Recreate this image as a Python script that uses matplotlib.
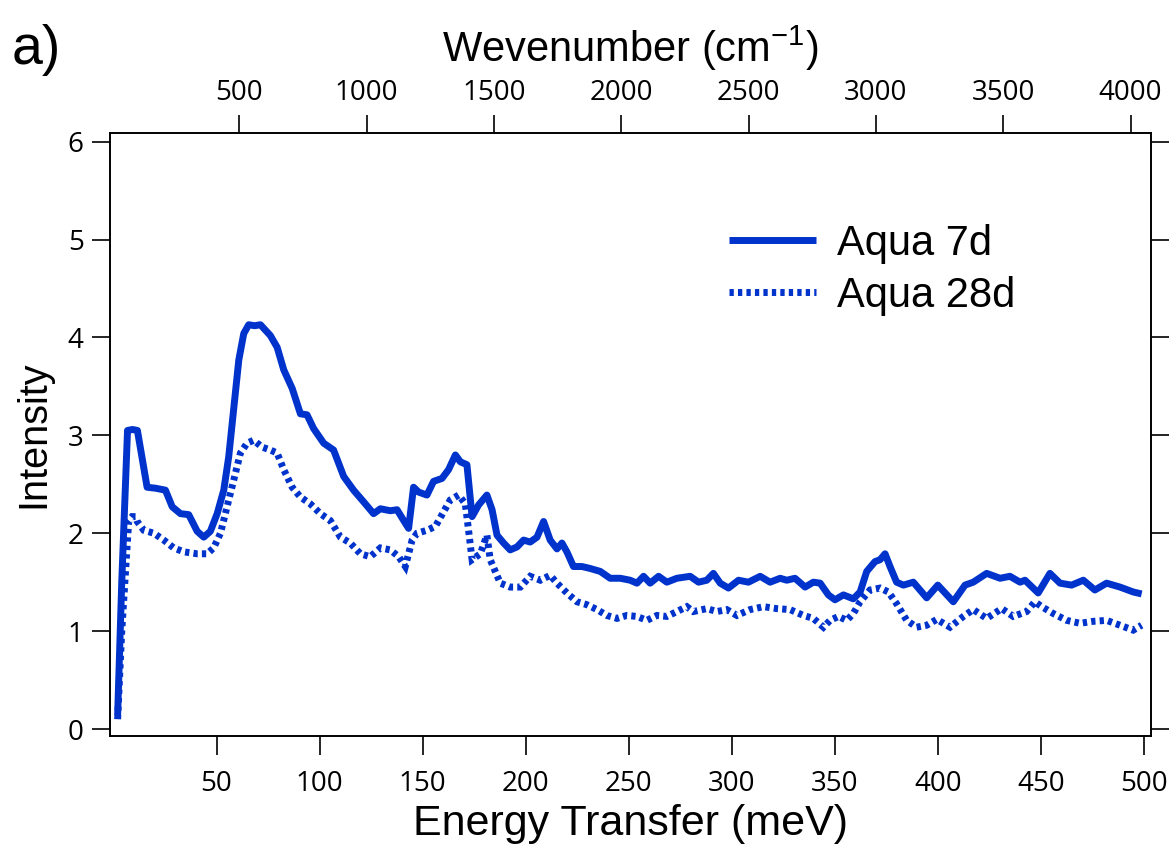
import matplotlib
matplotlib.use("Agg")
import matplotlib.pyplot as plt

# ---------------- data ----------------
energy_7d = [2, 4, 6.8, 9.2, 11.6, 16.3, 20.4, 25.2, 28.5, 32.5, 36.5, 40.6, 43.8, 47, 50.3,
             53.5, 55.9, 58.5, 60.8, 63.2, 65.6, 68.5, 71.3, 76.1, 79.4, 82.6, 86.7, 90.7,
             93.9, 97.1, 102, 106.8, 111.7, 116.5, 121.4, 126.2, 129.5, 134.3, 137.6, 140.8,
             143.2, 145.6, 148.1, 152.1, 155.3, 159.4, 162.6, 165.9, 168.3, 171.5, 174, 177.2,
             181.2, 183.7, 186.1, 189.3, 192.5, 195.8, 199, 202.2, 205.5, 208.7, 211.9, 215.2,
             217.6, 220, 223.2, 227.3, 231.3, 236.2, 241, 245.9, 250.7, 254, 257.2, 260.4,
             264.5, 268.5, 273.4, 279.8, 283.9, 287.9, 291.1, 294.4, 298.4, 303.3, 308.1,
             313.8, 318.6, 323.5, 326.7, 330.7, 335.6, 339.6, 342.9, 346.9, 350.1, 354.2, 359,
             362.3, 365.5, 369.5, 372, 374.4, 376.8, 380, 383.3, 388.1, 394.6, 400, 407.5,
             413.2, 417.2, 423.7, 430.2, 435, 439.9, 442.3, 448.7, 454.4, 459.3, 464.9, 470.6,
             476.2, 481.9, 488.4, 494.8, 498.9]
intensity_7d = [0.14, 1.5, 3.05, 3.06, 3.05, 2.47, 2.46, 2.44, 2.27, 2.2, 2.19, 2.02, 1.96, 2.02, 2.2,
                2.44, 2.78, 3.3, 3.77, 4.04, 4.13, 4.12, 4.13, 4.02, 3.9, 3.67, 3.48, 3.22,
                3.21, 3.07, 2.92, 2.85, 2.58, 2.44, 2.32, 2.2, 2.25, 2.23, 2.24, 2.13,
                2.05, 2.47, 2.42, 2.39, 2.53, 2.56, 2.65, 2.8, 2.73, 2.7, 2.17, 2.29,
                2.39, 2.24, 1.98, 1.9, 1.83, 1.86, 1.93, 1.91, 1.96, 2.12, 1.93, 1.84,
                1.9, 1.81, 1.66, 1.66, 1.64, 1.61, 1.54, 1.54, 1.52, 1.49, 1.56, 1.49,
                1.56, 1.5, 1.54, 1.56, 1.5, 1.52, 1.59, 1.49, 1.44, 1.52, 1.5,
                1.56, 1.5, 1.54, 1.52, 1.54, 1.45, 1.5, 1.49, 1.37, 1.32, 1.37, 1.33,
                1.4, 1.61, 1.71, 1.73, 1.79, 1.66, 1.5, 1.47, 1.5, 1.34, 1.47, 1.3,
                1.47, 1.5, 1.59, 1.54, 1.56, 1.5, 1.52, 1.39, 1.59, 1.49, 1.47, 1.52,
                1.42, 1.49, 1.45, 1.4, 1.38]

energy_28d = [2, 4, 7.4, 9, 10.7, 11.5, 14.7, 19.6, 24.4, 29.2, 34.1, 40.6, 45.4, 48.6, 51.9,
              55.1, 58.3, 61.6, 64.8, 68, 72.1, 76.1, 79.4, 82.6, 86.7, 90.7, 95.5, 100.4,
              105.2, 110.1, 114.9, 119.8, 124.6, 129.5, 134.3, 138.4, 141.6, 144.9, 147.3,
              152.1, 156.2, 160.2, 163.4, 167.5, 170.7, 172.3, 174, 178, 181.2, 182.8, 187.7,
              192.5, 197.4, 202.2, 207.1, 211.9, 215.2, 220, 224.9, 229.7, 234.6, 239.4,
              244.3, 249.1, 254, 258.8, 263.7, 268.5, 273.4, 278.2, 281.4, 287.9, 292.8,
              297.6, 302.5, 308.9, 315.4, 321.8, 328.3, 334.8, 339.6, 344.5, 347.7, 351.8,
              355.8, 359, 362.3, 367.1, 372, 376, 380, 384.9, 389.7, 394.6, 399.5, 405.9,
              412.4, 417.2, 423.7, 431, 436.6, 443.1, 447.1, 450.4, 456, 462.5, 469, 475.4,
              481.9, 488.4, 494.8, 498.9]
intensity_28d = [0.1, 1.0, 2.13, 2.17, 2.17, 2.12, 2.03, 2.0, 1.93, 1.85, 1.81, 1.79, 1.79, 1.85, 2.0,
                 2.27, 2.54, 2.82, 2.92, 2.95, 2.88, 2.85, 2.82, 2.65, 2.47, 2.37, 2.3, 2.2,
                 2.13, 1.96, 1.9, 1.79, 1.76, 1.85, 1.83, 1.76, 1.66, 1.93, 2.0,
                 2.03, 2.07, 2.22, 2.34, 2.39, 2.3, 2.03, 1.73, 1.79, 1.98, 1.73, 1.49,
                 1.45, 1.45, 1.56, 1.52, 1.57, 1.49, 1.39, 1.3, 1.27, 1.22, 1.16,
                 1.13, 1.16, 1.15, 1.11, 1.16, 1.15, 1.2, 1.25, 1.2, 1.23, 1.2,
                 1.22, 1.16, 1.22, 1.25, 1.23, 1.22, 1.16, 1.13, 1.04, 1.11, 1.15,
                 1.11, 1.18, 1.3, 1.42, 1.44, 1.4, 1.28, 1.11, 1.04, 1.06, 1.12, 1.04,
                 1.15, 1.22, 1.13, 1.23, 1.15, 1.2, 1.3, 1.25, 1.18, 1.11, 1.08, 1.1,
                 1.11, 1.06, 1.01, 1.06]

labels = ["Aqua 7d", "Aqua 28d"]
bottom_ticks = [50, 100, 150, 200, 250, 300, 350, 400, 450, 500]
top_ticks = [500, 1000, 1500, 2000, 2500, 3000, 3500, 4000]
y_ticks = [0, 1, 2, 3, 4, 5, 6]

# ---------------- style ----------------
plt.rcParams['mathtext.fontset'] = 'custom'
plt.rcParams['mathtext.rm'] = 'Liberation Sans'
plt.rcParams['mathtext.it'] = 'Liberation Sans'
LABEL_FONT = 'Liberation Sans'
TICK_FONT = 'Open Sans'
BLUE = '#0033CC'

W, H = 1171, 846
fig = plt.figure(figsize=(W / 100, H / 100), dpi=100)
left, right, bottom, top = 110 / W, 1150.7 / W, 1 - 736 / H, 1 - 133 / H
ax = fig.add_axes([left, bottom, right - left, top - bottom])

ax.plot(energy_7d, intensity_7d, color=BLUE, lw=5, solid_joinstyle='round',
        solid_capstyle='butt', label=labels[0])
ax.plot(energy_28d, intensity_28d, color=BLUE, lw=5, linestyle=(0, (0.62, 0.6)),
        dash_capstyle='butt', dash_joinstyle='miter', label=labels[1])

ax.set_xlim(-1.7, 503.3)
ax.set_ylim(-0.0715, 6.089)
ax.set_xticks(bottom_ticks)
ax.set_yticks(y_ticks)

for sp in ax.spines.values():
    sp.set_linewidth(1.2)

ax.tick_params(axis='x', which='major', direction='out', length=13.5, width=1.2,
               pad=11, labelsize=20, bottom=True, top=False)
ax.tick_params(axis='y', which='major', direction='out', length=13, width=1.2,
               pad=6, labelsize=20, left=True, right=True, labelright=False)
for lab in ax.get_xticklabels() + ax.get_yticklabels():
    lab.set_fontfamily(TICK_FONT)

ax2 = ax.twiny()
ax2.set_xlim(-7.5, 4079)
ax2.set_xticks(top_ticks)
ax2.tick_params(axis='x', direction='out', length=13, width=1.2, pad=6, labelsize=20)
for lab in ax2.get_xticklabels():
    lab.set_fontfamily(TICK_FONT)
for sp in ax2.spines.values():
    sp.set_linewidth(1.2)

ax.set_xlabel('Energy Transfer (meV)', fontsize=31, family=LABEL_FONT, labelpad=4)
ax.set_ylabel('Intensity', fontsize=28.5, family=LABEL_FONT, labelpad=11)
ax2.set_xlabel('Wevenumber (cm$^{-1}$)', fontsize=30, family=LABEL_FONT, labelpad=12)

leg = ax.legend(loc='upper left', bbox_to_anchor=(708 / W, 1 - 203 / H),
                bbox_transform=fig.transFigure, frameon=False,
                handlelength=2.1, handletextpad=0.5, labelspacing=0.28, borderpad=0,
                prop={'family': LABEL_FONT, 'size': 30})

fig.text(12 / W, 1 - 50 / H, 'a)', fontsize=40, family=LABEL_FONT, va='center', ha='left')

fig.savefig('out.png', dpi=100)
